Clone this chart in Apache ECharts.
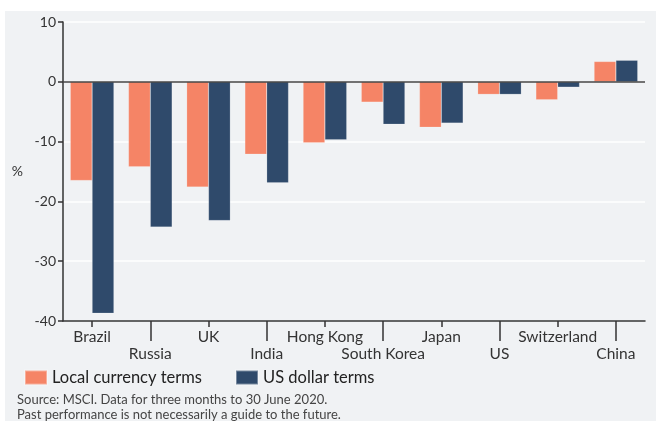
<!DOCTYPE html>
<html>
<head>
<meta charset="utf-8">
<script src="https://cdn.jsdelivr.net/npm/echarts@6/dist/echarts.min.js"></script>
<style>
  body { margin: 0; background: #ffffff; }
  #chart { width: 657px; height: 421px; }
</style>
</head>
<body>
<div id="chart"></div>
<script>
// 市场
var countries = ["Brazil", "Russia", "UK", "India", "Hong Kong", "South Korea", "Japan", "US", "Switzerland", "China"];
// 本币
var localTerms = [-16.5, -14.2, -17.6, -12.1, -10.2, -3.4, -7.6, -2.1, -3.0, 3.4];
// 美元
var usdTerms = [-38.7, -24.3, -23.2, -16.9, -9.7, -7.1, -6.9, -2.1, -0.9, 3.6];
var yTicks = [10, 0, -10, -20, -30, -40];

var font = "Lato";
var myChart = echarts.init(document.getElementById("chart"));

myChart.setOption({
  animation: false,
  textStyle: { fontFamily: font },
  graphic: [
    {
      type: "rect",
      z: -10,
      shape: { x: 5, y: 11, width: 651, height: 410 },
      style: { fill: "#f0f2f4" },
    },
    {
      type: "text",
      left: 17,
      top: 393,
      style: { text: "Source: MSCI. Data for three months to 30 June 2020.", fill: "#444", fontSize: 13, fontFamily: font },
    },
    {
      type: "text",
      left: 17,
      top: 408,
      style: { text: "Past performance is not necessarily a guide to the future.", fill: "#444", fontSize: 13, fontFamily: font },
    },
  ],
  grid: { left: 63, right: 12, top: 22, bottom: 100 },
  legend: {
    left: 19,
    top: 364,
    itemWidth: 22,
    itemHeight: 14,
    itemGap: 33,
    icon: "rect",
    textStyle: { fontSize: 16.5, color: "#222", fontFamily: font },
    data: ["Local currency terms", "US dollar terms"],
  },
  xAxis: [
    {
      type: "category",
      data: countries,
      position: "bottom",
      axisLine: { show: true, onZero: false, lineStyle: { color: "#333", width: 1.5 } },
      axisTick: { show: true, alignWithLabel: true, length: 6, lineStyle: { color: "#333", width: 1.5 } },
      axisLabel: {
        interval: 0,
        color: "#333",
        fontSize: 15.5,
        margin: 7,
        lineHeight: 17,
        formatter: function (value, index) {
          return index % 2 === 1 ? "\n" + value : value; // 错开显示
        },
      },
    },
    {
      // 长刻度
      type: "category",
      data: countries,
      position: "bottom",
      axisLine: { show: false, onZero: false },
      axisLabel: { show: false },
      axisTick: {
        show: true,
        alignWithLabel: true,
        length: 20,
        interval: function (index) { return index % 2 === 1; },
        lineStyle: { color: "#333", width: 1.5 },
      },
    },
  ],
  yAxis: {
    type: "value",
    min: -40,
    max: 10,
    interval: 10,
    name: "%",
    nameLocation: "middle",
    nameRotate: 0,
    nameGap: 40,
    nameTextStyle: { color: "#333", fontSize: 14 },
    axisLine: { show: true, lineStyle: { color: "#333", width: 1.5 } },
    axisTick: { show: true, length: 5, lineStyle: { color: "#333", width: 1.5 } },
    axisLabel: { color: "#333", fontSize: 14, margin: 7 },
    splitLine: { show: true, lineStyle: { color: "#ffffff", width: 1.5 } },
  },
  series: [
    {
      name: "Local currency terms",
      type: "bar",
      data: localTerms,
      barGap: "0%",
      barCategoryGap: "25%",
      itemStyle: { color: "#f58466", borderColor: "rgba(255,255,255,0.35)", borderWidth: 0.5 },
      markLine: {
        silent: true,
        symbol: "none",
        label: { show: false },
        lineStyle: { color: "#444", width: 1.5, type: "solid" },
        data: [{ yAxis: 0 }],
        z: 10,
      },
    },
    {
      name: "US dollar terms",
      type: "bar",
      data: usdTerms,
      itemStyle: { color: "#2f4a6b", borderColor: "rgba(255,255,255,0.35)", borderWidth: 0.5 },
    },
  ],
});
</script>
</body>
</html>
